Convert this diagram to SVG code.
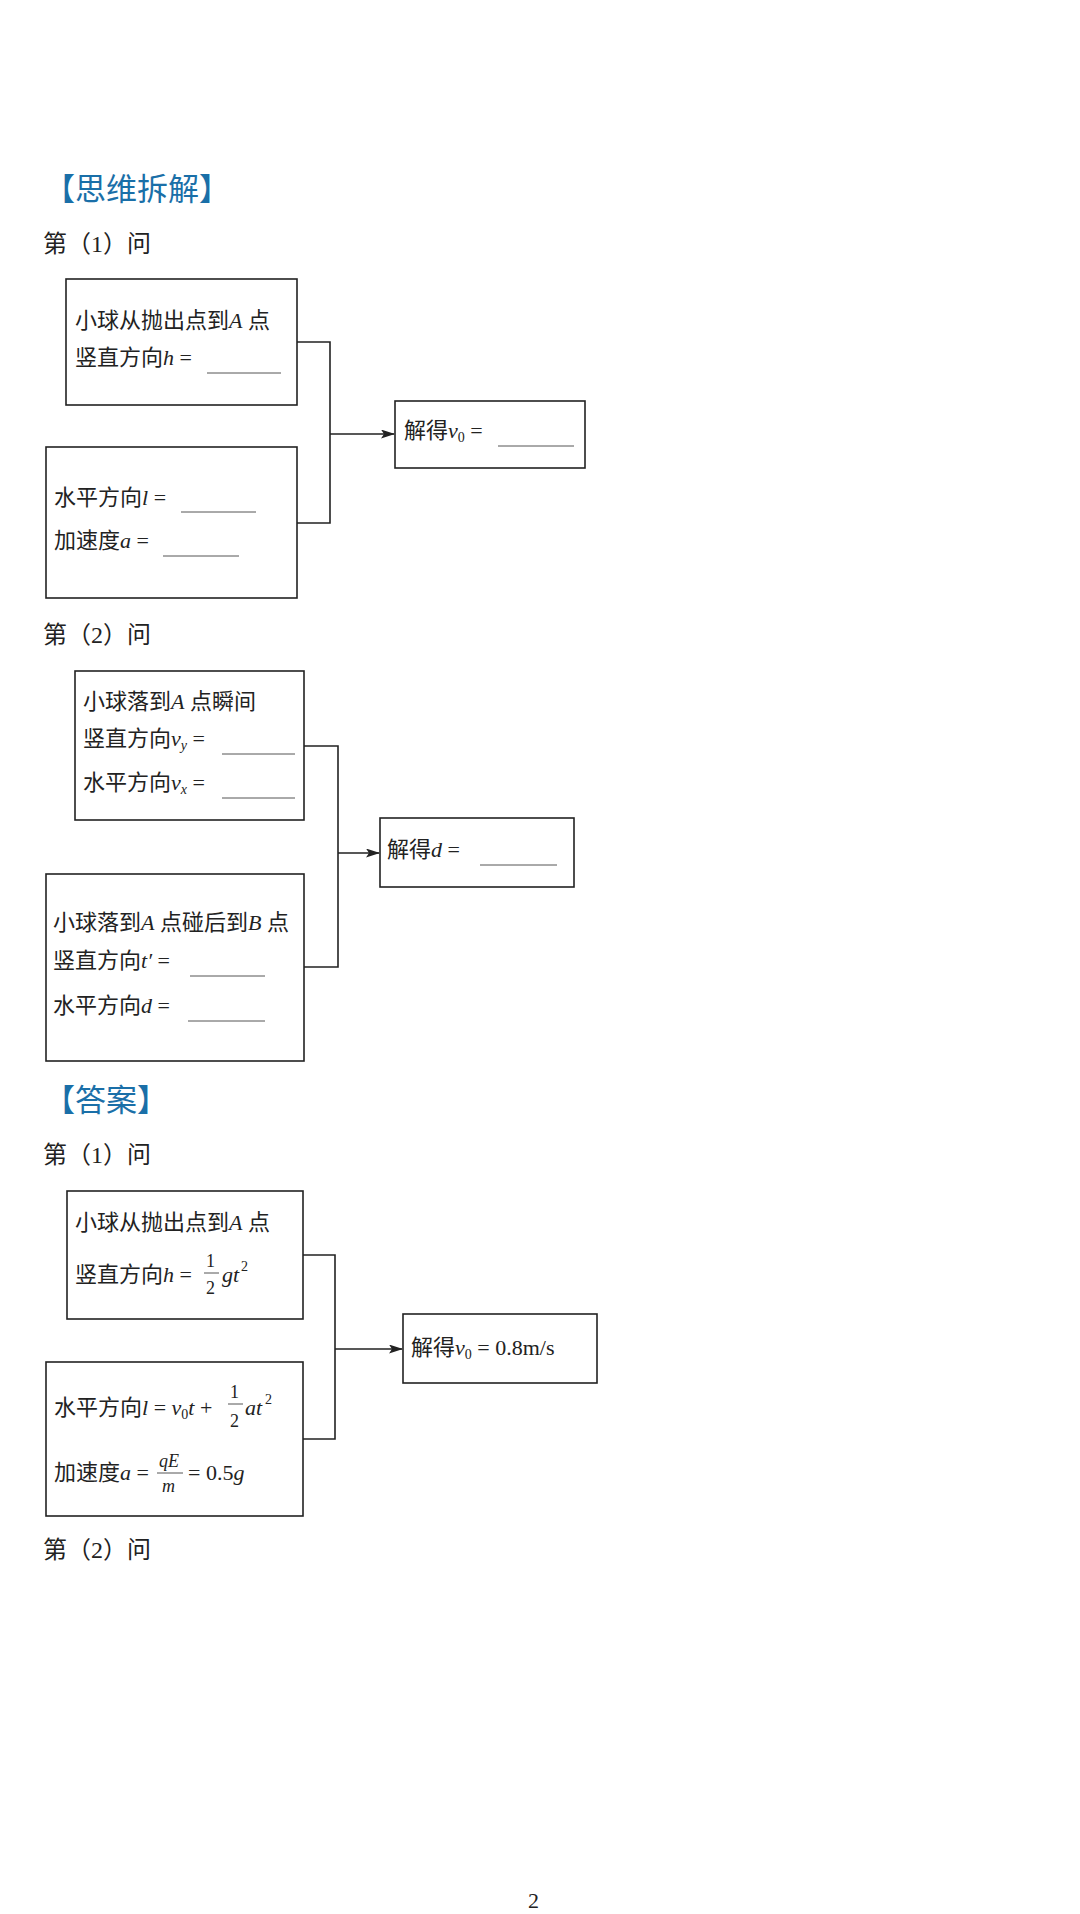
<svg xmlns="http://www.w3.org/2000/svg" width="1080" height="1914" viewBox="0 0 1080 1914">
<style>
text{font-family:"Liberation Serif","Noto Sans CJK SC",serif;font-size:22px;fill:#222}
.h{font-size:31px;fill:#1a6fa8;font-family:"Noto Sans CJK SC",sans-serif}
.q{font-size:24px}
.i{font-style:italic}
.s{font-size:14px}
.f{font-size:18px}
.box{fill:none;stroke:#222;stroke-width:1.6}
.ul{stroke:#555;stroke-width:1}
.c{fill:none;stroke:#222;stroke-width:1.6}
</style>
<defs><marker id="ar" markerWidth="14" markerHeight="9" refX="13" refY="4.5" orient="auto" markerUnits="userSpaceOnUse"><path d="M0,0 L14,4.5 L0,9 L3,4.5 Z" fill="#222"/></marker></defs>
<rect width="1080" height="1914" fill="#fff"/>
<text class="h" x="44" y="200">【思维拆解】</text>
<text class="q" x="43" y="252">第（1）问</text>
<g id="n1"><rect class="box" x="66" y="279" width="231" height="126"/>
<text x="75" y="328">小球从抛出点到<tspan class="i">A</tspan> 点</text>
<text x="75" y="365">竖直方向<tspan class="i">h</tspan> =</text><line class="ul" x1="207" y1="373" x2="281" y2="373"/></g>
<g id="n2"><rect class="box" x="46" y="447" width="251" height="151"/>
<text x="54" y="505">水平方向<tspan class="i">l</tspan> =</text><line class="ul" x1="181" y1="512" x2="256" y2="512"/>
<text x="54" y="548">加速度<tspan class="i">a</tspan> =</text><line class="ul" x1="163" y1="556" x2="239" y2="556"/></g>
<g id="n3"><rect class="box" x="395" y="401" width="190" height="67"/>
<text x="404" y="438">解得<tspan class="i">v</tspan><tspan class="s" dy="4">0</tspan><tspan dy="-4"> =</tspan></text><line class="ul" x1="498" y1="446" x2="574" y2="446"/></g>
<text class="q" x="43" y="643">第（2）问</text>
<g id="n4"><rect class="box" x="75" y="671" width="229" height="149"/>
<text x="83" y="709">小球落到<tspan class="i">A</tspan> 点瞬间</text>
<text x="83" y="746">竖直方向<tspan class="i">v</tspan><tspan class="s i" dy="4">y</tspan><tspan dy="-4"> =</tspan></text><line class="ul" x1="222" y1="754" x2="295" y2="754"/>
<text x="83" y="790">水平方向<tspan class="i">v</tspan><tspan class="s i" dy="4">x</tspan><tspan dy="-4"> =</tspan></text><line class="ul" x1="222" y1="798" x2="295" y2="798"/></g>
<g id="n5"><rect class="box" x="46" y="874" width="258" height="187"/>
<text x="53" y="930">小球落到<tspan class="i">A</tspan> 点碰后到<tspan class="i">B</tspan> 点</text>
<text x="53" y="968">竖直方向<tspan class="i">t′</tspan> =</text><line class="ul" x1="190" y1="976" x2="265" y2="976"/>
<text x="53" y="1013">水平方向<tspan class="i">d</tspan> =</text><line class="ul" x1="188" y1="1021" x2="265" y2="1021"/></g>
<g id="n6"><rect class="box" x="380" y="818" width="194" height="69"/>
<text x="387" y="857">解得<tspan class="i">d</tspan> =</text><line class="ul" x1="480" y1="865" x2="557" y2="865"/></g>
<text class="h" x="44" y="1111">【答案】</text>
<text class="q" x="43" y="1163">第（1）问</text>
<g id="n7"><rect class="box" x="67" y="1191" width="236" height="128"/>
<text x="75" y="1230">小球从抛出点到<tspan class="i">A</tspan> 点</text>
<text x="75" y="1282">竖直方向<tspan class="i">h</tspan> =</text>
<text x="206" y="1267" class="f">1</text><line class="ul" x1="204" y1="1273" x2="219" y2="1273"/><text x="206" y="1294" class="f">2</text>
<text x="222" y="1282" class="i">gt</text><text x="241" y="1271" class="s">2</text></g>
<g id="n8"><rect class="box" x="46" y="1362" width="257" height="154"/>
<text x="54" y="1415">水平方向<tspan class="i">l</tspan> = <tspan class="i">v</tspan><tspan class="s" dy="4">0</tspan><tspan dy="-4" class="i">t</tspan> +</text>
<text x="230" y="1398" class="f">1</text><line class="ul" x1="228" y1="1404" x2="243" y2="1404"/><text x="230" y="1427" class="f">2</text>
<text x="245" y="1415" class="i">at</text><text x="265" y="1404" class="s">2</text>
<text x="54" y="1480">加速度<tspan class="i">a</tspan> =</text>
<text x="159" y="1467" class="i f">qE</text><line class="ul" x1="157" y1="1473" x2="183" y2="1473"/><text x="162" y="1492" class="i f">m</text>
<text x="188" y="1480">= 0.5<tspan class="i">g</tspan></text></g>
<g id="n9"><rect class="box" x="403" y="1314" width="194" height="69"/>
<text x="411" y="1355">解得<tspan class="i">v</tspan><tspan class="s" dy="4">0</tspan><tspan dy="-4"> = 0.8m/s</tspan></text></g>
<text class="q" x="43" y="1558">第（2）问</text>
<text x="528" y="1908" font-size="18">2</text>
<g id="connectors">
<path class="c" d="M297,342 H330 V523 H297 M330,434 H394" marker-end="url(#ar)"/>
<path class="c" d="M304,746 H338 V967 H304 M338,853 H379" marker-end="url(#ar)"/>
<path class="c" d="M303,1255 H335 V1439 H303 M335,1349 H402" marker-end="url(#ar)"/>
</g>
</svg>
